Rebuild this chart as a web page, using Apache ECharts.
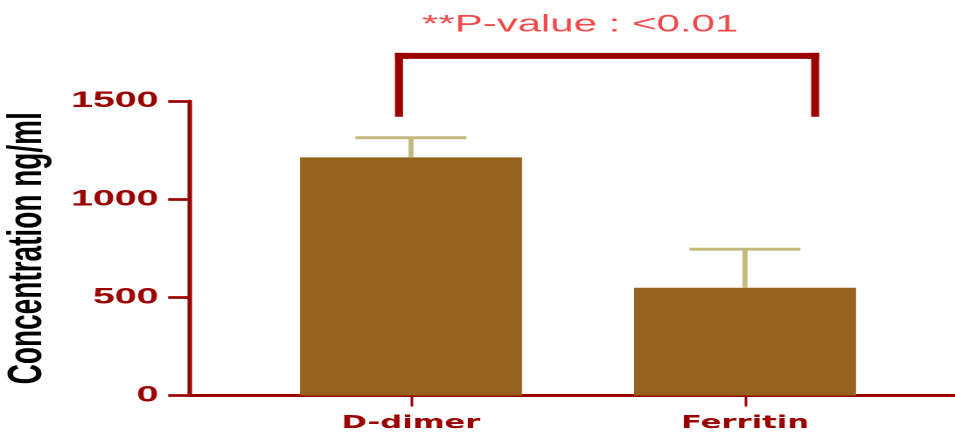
<!DOCTYPE html>
<html>
<head>
<meta charset="utf-8">
<script src="https://cdn.jsdelivr.net/npm/echarts@6/dist/echarts.min.js"></script>
<style>
html,body{margin:0;padding:0;background:#fff;}
#wrap{width:955px;height:434px;overflow:hidden;position:relative;}
#c{width:546px;height:434px;transform:scaleX(1.749);transform-origin:0 0;}
</style>
</head>
<body>
<div id="wrap"><div id="c"></div></div>
<script>
// ---- data ----
const categories = ['D-dimer', 'Ferritin'];
const meanValues = [1213, 549];
const upperValues = [1313, 745];          // mean + error
const yTickValues = [0, 500, 1000, 1500];
const pLabel = '**P-value : <0.01';
const bracketX = [-0.036, 1.21];          // category units
const bracketY = [1420, 1730];            // leg bottom, bracket top

// ---- style ----
const S = 1.749;                           // horizontal stretch of the page
const RED = '#9b0000';
const BAR = '#95631f';
const ERR = '#c5b87d';

const chart = echarts.init(document.getElementById('c'), null, {devicePixelRatio: 2});

const yMin = yTickValues[0], yMax = yTickValues[yTickValues.length - 1];
const yInt = yTickValues[1] - yTickValues[0];

const errData = categories.map((c, i) => [i, meanValues[i], upperValues[i]]);

const option = {
  animation: false,
  title: {
    text: pLabel, left: 422 / S, top: 13, padding: 0,
    textStyle: {fontFamily: 'Liberation Sans, Arial, sans-serif', fontSize: 24, fontWeight: 'normal', color: '#f24a4a'}
  },
  grid: [
    {left: 190 / S, right: 0, top: 101, bottom: 38.5, containLabel: false, outerBoundsMode: 'none'},
    {left: 244 / S, width: 668 / S, top: 101, bottom: 38.5, containLabel: false, outerBoundsMode: 'none'}
  ],
  xAxis: [
    {gridIndex: 0, type: 'value', min: 0, max: 1,
     axisLine: {show: true, lineStyle: {color: RED, width: 3}},
     axisTick: {show: false}, axisLabel: {show: false}, splitLine: {show: false}},
    {gridIndex: 1, type: 'category', data: categories,
     axisLine: {show: false},
     axisTick: {show: true, alignWithLabel: true, length: 11, lineStyle: {color: RED, width: 2.6 / S}},
     axisLabel: {margin: 19, color: RED, fontFamily: 'DejaVu Sans, sans-serif', fontWeight: 'bold', fontSize: 17.5},
     splitLine: {show: false}},
    {gridIndex: 1, type: 'value', min: -0.5, max: 1.5, show: false}
  ],
  yAxis: [
    {gridIndex: 0, type: 'value', min: yMin, max: yMax, interval: yInt,
     name: 'Concentration ng/ml', nameLocation: 'middle', nameGap: 68,
     nameTextStyle: {fontFamily: 'Liberation Sans, Arial, sans-serif', fontWeight: 'bold', fontSize: 28, color: '#000'},
     axisLine: {show: true, lineStyle: {color: RED, width: 4.5 / S}},
     axisTick: {show: true, length: 12.5, lineStyle: {color: RED, width: 2.7}},
     axisLabel: {margin: 18, color: RED, fontFamily: 'Liberation Sans, Arial, sans-serif', fontWeight: 'bold', fontSize: 22.5,
                 formatter: v => String(v)},
     splitLine: {show: false}},
    {gridIndex: 1, type: 'value', min: yMin, max: yMax, show: false}
  ],
  series: [
    {type: 'bar', xAxisIndex: 1, yAxisIndex: 1, data: meanValues,
     barWidth: 222 / S, itemStyle: {color: BAR}, z: 2},
    {type: 'custom', xAxisIndex: 1, yAxisIndex: 1, data: errData, z: 3,
     encode: {x: 0, y: [1, 2]},
     renderItem: function (params, api) {
       const pm = api.coord([api.value(0), api.value(1)]);
       const pu = api.coord([api.value(0), api.value(2)]);
       const capW = 111 / S;
       return {type: 'group', children: [
         {type: 'line', shape: {x1: pm[0], y1: pm[1], x2: pu[0], y2: pu[1]},
          style: {stroke: ERR, lineWidth: 5 / S}},
         {type: 'line', shape: {x1: pu[0] - capW / 2, y1: pu[1], x2: pu[0] + capW / 2, y2: pu[1]},
          style: {stroke: ERR, lineWidth: 3}}
       ]};
     }},
    {type: 'custom', xAxisIndex: 2, yAxisIndex: 1, clip: false, z: 4,
     data: [[bracketX[0], bracketX[1], bracketY[0], bracketY[1]]],
     encode: {x: [0, 1], y: [2, 3]},
     renderItem: function (params, api) {
       const tl = api.coord([api.value(0), api.value(3)]);
       const tr = api.coord([api.value(1), api.value(3)]);
       const bl = api.coord([api.value(0), api.value(2)]);
       const legW = 8 / S, barH = 6;
       return {type: 'group', children: [
         {type: 'rect', shape: {x: tl[0] - legW / 2, y: tl[1] - barH / 2, width: legW, height: bl[1] - tl[1] + barH / 2}, style: {fill: RED}},
         {type: 'rect', shape: {x: tr[0] - legW / 2, y: tr[1] - barH / 2, width: legW, height: bl[1] - tr[1] + barH / 2}, style: {fill: RED}},
         {type: 'rect', shape: {x: tl[0] - legW / 2, y: tl[1] - barH / 2, width: tr[0] - tl[0] + legW, height: barH}, style: {fill: RED}}
       ]};
     }}
  ]
};
chart.setOption(option);
</script>
</body>
</html>
